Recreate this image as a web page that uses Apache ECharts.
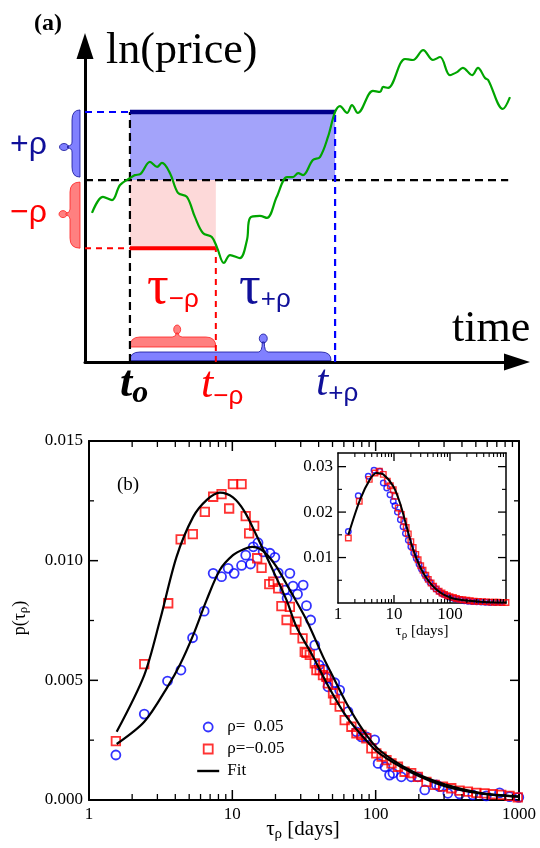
<!DOCTYPE html>
<html><head><meta charset="utf-8">
<script src="https://cdn.jsdelivr.net/npm/echarts@6.0.0/dist/echarts.min.js"></script>
<style>html,body{margin:0;padding:0;background:#fff}#c{width:540px;height:848px}</style>
</head><body><div id="c"></div>
<script>
// ---------- panel (a) schematic data ----------
const walkTime = [1.57,4.04,6.07,7.87,10.1,11.2,12.4,14.6,16.2,17.3,19.1,20.9,22.9,24.7,26.5,28.5,29.7,31.2,32.6,34.8,36.4,37.1,39.3,40.9,43.1,45.4,46.7,47.9,49.0,51.2,52.8,54.6,56.2,57.3,58.9,60.0,61.3,64.7,66.3,67.0,68.1,71.9,73.7,76.0,78.2,79.8,82.0,83.6,84.9,87.0,88.3,89.9,90.6,93.9,95.5];
const walkPrice = [45.3,50.2,49.2,53.8,55.9,56.8,57.1,60.8,59.3,60.5,57.4,51.4,50.2,44.1,39.2,38.0,34.7,30.1,32.5,31.6,37.1,43.8,44.4,43.8,50.2,56.2,56.2,57.4,56.8,61.4,62.3,68.4,76.0,77.8,75.7,78.1,75.7,82.4,82.1,83.6,83.3,92.1,91.8,94.8,91.8,92.7,87.2,88.1,89.4,87.2,89.4,86.3,85.7,76.9,80.5];
const priceLevels = [34.6, 55.3, 76.0];   // -rho level, start level, +rho level
const hitTimes = [10.1, 29.4, 56.2];      // t_o, t_-rho, t_+rho
const levelLineEnd = 95.1;

// ---------- panel (b) main data ----------
const tauUp = [1.54,2.43,3.53,4.38,5.28,6.36,7.35,8.41,9.35,10.3,11.6,12.4,13.4,14.0,15.1,16.4,18.3,19.8,20.9,23.2,24.1,25.2,26.5,28.5,31.2,32.9,35.2,37.6,40.3,42.9,45.3,46.5,51.8,56.1,64.1,73.4,79.5,86.1,98.4,104,116,125,132,151,177,197,220,265,279,319,385,476,591,732,859,997];
const pUp = [0.00188,0.00359,0.00497,0.00543,0.00678,0.00789,0.00947,0.00933,0.00968,0.00947,0.00980,0.01023,0.00986,0.01058,0.01075,0.01037,0.01031,0.01014,0.00949,0.00877,0.00843,0.00947,0.00894,0.00860,0.00898,0.00812,0.00752,0.00647,0.00564,0.00547,0.00510,0.00473,0.00490,0.00459,0.00369,0.00285,0.00264,0.00264,0.00251,0.00153,0.00139,0.00104,0.00112,0.00097,0.00097,0.00097,0.00042,0.00063,0.00056,0.00028,0.00025,0.00021,0.00017,0.00030,0.00014,0.00011];
const tauDown = [1.54,2.43,3.57,4.36,5.30,6.43,7.35,8.41,9.50,10.1,11.6,12.4,13.1,14.2,14.9,16.0,18.1,19.3,20.9,22.0,23.9,25.2,27.3,28.0,30.9,32.0,32.9,34.7,37.6,38.6,40.7,42.9,45.3,46.5,50.4,51.8,56.1,60.8,67.7,73.4,79.5,86.1,93.3,101,110,119,129,143,159,177,197,226,258,295,337,385,440,504,575,657,752,859,981];
const pDown = [0.00246,0.00568,0.00822,0.01089,0.01111,0.01204,0.01267,0.01278,0.01218,0.01320,0.01320,0.01186,0.01114,0.01145,0.01010,0.00970,0.00902,0.00912,0.00884,0.00810,0.00752,0.00807,0.00712,0.00745,0.00675,0.00619,0.00615,0.00606,0.00571,0.00543,0.00543,0.00522,0.00515,0.00487,0.00446,0.00418,0.00390,0.00334,0.00306,0.00279,0.00272,0.00258,0.00216,0.00195,0.00181,0.00167,0.00153,0.00139,0.00118,0.00112,0.00097,0.00076,0.00063,0.00056,0.00049,0.00039,0.00035,0.00030,0.00028,0.00024,0.00021,0.00017,0.00011];
const fitUpTau = [1.56,2.43,3.53,4.3,5.33,6.61,8.18,10.1,12.0,13.8,15.5,17.5,20.3,25.2,32.9,42.9,50.4,62.6,81.6,106,182,311,532,1000];
const fitUpP = [0.00234,0.00327,0.00473,0.00564,0.00689,0.00835,0.00961,0.01023,0.01048,0.01058,0.01050,0.01025,0.00975,0.00877,0.00752,0.00599,0.00515,0.00404,0.00292,0.00209,0.00118,0.00063,0.00030,0.00014];
const fitDownTau = [1.56,2.43,3.13,4.08,5.33,6.61,8.2,10.1,12.2,14.7,18.2,23.9,28,36.5,47.8,62.6,81.6,106,182,311,532,1000];
const fitDownP = [0.00285,0.00522,0.00752,0.01016,0.01183,0.01253,0.01284,0.01264,0.01204,0.01107,0.00989,0.00835,0.00724,0.00600,0.00465,0.00348,0.00264,0.00195,0.00112,0.00056,0.00028,0.00014];

// ---------- panel (b) inset data ----------
const insetTauUp = [1.53,2.30,3.47,4.39,5.6,6.44,7.41,8.48,9.7,10.4,11.5,13,14.5,16,18,20,22.5,25,28,31,35,39,44,50,56,63,71,80,90,102,117,135,155,180,210,250,300,360,430,520,640,800];
const insetPUp = [0.01574,0.0236,0.0279,0.0292,0.0290,0.0264,0.0253,0.0238,0.0224,0.0214,0.0200,0.0183,0.0168,0.0153,0.0138,0.0124,0.0110,0.0098,0.0085,0.0074,0.0063,0.0054,0.0045,0.0037,0.0031,0.0026,0.0021,0.0018,0.0015,0.0012,0.0010,0.0008,0.0007,0.0005,0.0004,0.0003,0.00025,0.0002,0.00015,0.00012,0.0001,0.0001];
const insetTauDown = [1.53,2.40,3.62,4.58,5.47,6.44,7.6,8.6,9.7,10.4,11.9,13.5,15,16.5,18,20,22,24.5,27,30,33,37,41,46,51,57,64,72,80,90,100,115,130,150,170,200,230,270,320,380,450,530,620,720,850,1000];
const insetPDown = [0.0143,0.0224,0.0272,0.0286,0.0290,0.0283,0.0268,0.0258,0.0249,0.0235,0.0209,0.0195,0.0180,0.0166,0.0152,0.0135,0.0122,0.0107,0.0095,0.0082,0.0072,0.0061,0.0052,0.0044,0.0037,0.0031,0.0026,0.0022,0.0019,0.0016,0.0014,0.0012,0.0010,0.0008,0.0007,0.0006,0.0005,0.0004,0.00035,0.0003,0.00025,0.0002,0.00018,0.00015,0.00012,0.0001];
const insetFitTau = [1.53,2.47,3.72,4.9,6.44,9.7,12.8,16.8,22.1,33.4,57.8,114,344,1000];
const insetFitP = [0.0150,0.0227,0.0272,0.0286,0.0283,0.0257,0.0220,0.0168,0.0117,0.0066,0.0029,0.0010,0.0003,0.0001];

// ---------- tick positions ----------
const logMajorTicks = [10, 100];
const logMinorTicks = [2,3,4,5,6,7,8,9,20,30,40,50,60,70,80,90,200,300,400,500,600,700,800,900];
const mainYMajorTicks = [0.005, 0.010];
const mainYMinorTicks = [0.0025, 0.0075, 0.0125];
const insetYMajorTicks = [0.01, 0.02, 0.03];
const insetYMinorTicks = [0.005, 0.015, 0.025];
const legendNames = ['ρ=  0.05', 'ρ=−0.05', 'Fit'];

// ---------- helpers ----------
const SERIF = '"Liberation Serif", "Times New Roman", serif';
const SANS = '"Liberation Sans", Arial, sans-serif';
const NAVY = '#10109a', BLUE = '#0000ff', RED = '#ff0000', GREEN = '#00a500';
const zip = (a, b) => a.map((v, i) => [v, b[i]]);
const mctx = document.createElement('canvas').getContext('2d');
function measure(t, f) { mctx.font = f; return mctx.measureText(t).width; }

function ellPath(cx, cy, rx, ry) {
  const k = 0.5523;
  return `M${cx-rx},${cy} C${cx-rx},${cy-ry*k} ${cx-rx*k},${cy-ry} ${cx},${cy-ry} C${cx+rx*k},${cy-ry} ${cx+rx},${cy-ry*k} ${cx+rx},${cy} C${cx+rx},${cy+ry*k} ${cx+rx*k},${cy+ry} ${cx},${cy+ry} C${cx-rx*k},${cy+ry} ${cx-rx},${cy+ry*k} ${cx-rx},${cy} Z`;
}
function hBracePath(x0, x1, yb, h, xk, gap, rx, ry) {
  const yt = yb - h, r = Math.min(10, (x1 - x0) / 4);
  return `M${x0},${yb} Q${x0},${yt} ${x0+r},${yt} L${xk-5},${yt} Q${xk-1},${yt} ${xk-1},${yt-gap} L${xk+1},${yt-gap} Q${xk+1},${yt} ${xk+5},${yt} L${x1-r},${yt} Q${x1},${yt} ${x1},${yb} Z ` + ellPath(xk, yt - gap - ry + 1, rx, ry);
}
function vBracePath(xr, w, y0, y1, yk, gap, rx, ry) {
  const xl = xr - w, r = Math.min(10, (y1 - y0) / 4);
  return `M${xr},${y0} Q${xl},${y0} ${xl},${y0+r} L${xl},${yk-5} Q${xl},${yk-1} ${xl-gap},${yk-1} L${xl-gap},${yk+1} Q${xl},${yk+1} ${xl},${yk+5} L${xl},${y1-r} Q${xl},${y1} ${xr},${y1} Z ` + ellPath(xl - gap - rx + 1, yk, rx, ry);
}
function composite(x, y, segs, o) {
  o = o || {};
  const widths = segs.map(s => measure(s.text, s.font));
  const total = widths.reduce((a, b) => a + b, 0);
  let adv = o.align === 'center' ? -total / 2 : 0;
  const rot = o.rotation || 0;
  const ux = Math.cos(rot), uy = -Math.sin(rot), vx = Math.sin(rot), vy = Math.cos(rot);
  return segs.map((s, i) => {
    const d = s.dy || 0;
    const el = {type: 'text', x: x + ux * adv + vx * d, y: y + uy * adv + vy * d, rotation: rot, silent: true, z: 100,
      style: {legacy: false, text: s.text, font: s.font, fill: s.fill || '#000', align: 'left', verticalAlign: 'middle',
              textAlign: 'left', textVerticalAlign: 'middle'}};
    adv += widths[i];
    return el;
  });
}

// ---------- panel (a) series ----------
const segLine = (data, color, width, type, z) => ({type: 'line', xAxisIndex: 0, yAxisIndex: 0, data, symbol: 'none', silent: true, z,
  lineStyle: {color, width, type, cap: 'butt'}, animation: false});
const rectSeries = (lo, hi, fill) => ({type: 'custom', xAxisIndex: 0, yAxisIndex: 0, silent: true, z: 1, data: [[lo[0], hi[0], lo[1], hi[1]]],
  renderItem: (p, api) => {
    const a = api.coord([api.value(0), api.value(3)]), b = api.coord([api.value(1), api.value(2)]);
    return {type: 'rect', shape: {x: a[0], y: a[1], width: b[0] - a[0], height: b[1] - a[1]}, style: {fill}};
  }});

const seriesA = [
  rectSeries([hitTimes[0], priceLevels[1]], [hitTimes[2], priceLevels[2]], '#a3a3fa'),
  rectSeries([hitTimes[0], priceLevels[0]], [hitTimes[1], priceLevels[1]], '#fdd9d9'),
  segLine([[0, priceLevels[1]], [levelLineEnd, priceLevels[1]]], '#000', 2.2, [8, 5], 4),
  segLine([[hitTimes[0], 0], [hitTimes[0], priceLevels[2]]], '#000', 2.2, [8, 5], 4),
  segLine([[0, priceLevels[2]], [hitTimes[0], priceLevels[2]]], BLUE, 2, [7, 5], 4),
  segLine([[hitTimes[2], 0], [hitTimes[2], priceLevels[2]]], BLUE, 2.2, [7, 5], 4),
  segLine([[0, priceLevels[0]], [hitTimes[0], priceLevels[0]]], RED, 2, [6, 5], 4),
  segLine([[hitTimes[1], 0], [hitTimes[1], priceLevels[0]]], RED, 2, [6, 5], 4),
  segLine([[hitTimes[0], priceLevels[2]], [hitTimes[2], priceLevels[2]]], '#00008b', 4.5, 'solid', 5),
  segLine([[hitTimes[0], priceLevels[0]], [hitTimes[1], priceLevels[0]]], RED, 4, 'solid', 5),
  {type: 'line', xAxisIndex: 0, yAxisIndex: 0, data: zip(walkTime, walkPrice), smooth: 0.35, symbol: 'none', silent: true, z: 6,
   lineStyle: {color: GREEN, width: 2.2}},
  {type: 'custom', xAxisIndex: 0, yAxisIndex: 0, silent: true, z: 3, data: [[priceLevels[1], priceLevels[2]]],
   renderItem: (p, api) => { const t = api.coord([0, api.value(1)]), b = api.coord([0, api.value(0)]);
     return {type: 'path', shape: {pathData: vBracePath(t[0] - 5, 8, t[1] - 2, b[1] - 3, (t[1] + b[1]) / 2 + 1, 4.5, 4.5, 3.5)},
             style: {fill: '#8080ff', stroke: NAVY, lineWidth: 0.8}}; }},
  {type: 'custom', xAxisIndex: 0, yAxisIndex: 0, silent: true, z: 3, data: [[priceLevels[0], priceLevels[1]]],
   renderItem: (p, api) => { const t = api.coord([0, api.value(1)]), b = api.coord([0, api.value(0)]);
     return {type: 'path', shape: {pathData: vBracePath(t[0] - 5, 10, t[1] + 2, b[1], (t[1] + b[1]) / 2, 4, 4, 3.5)},
             style: {fill: '#ff8080', stroke: '#ff2020', lineWidth: 0.8}}; }},
  {type: 'custom', xAxisIndex: 0, yAxisIndex: 0, silent: true, z: 3, data: [[hitTimes[0], hitTimes[1]]],
   renderItem: (p, api) => { const a = api.coord([api.value(0), 0]), b = api.coord([api.value(1), 0]);
     return {type: 'path', shape: {pathData: hBracePath(a[0], b[0], a[1] - 15, 10, a[0] + (b[0] - a[0]) * 0.55, 4, 3.5, 4.5)},
             style: {fill: '#ff8080', stroke: '#ff2020', lineWidth: 0.8}}; }},
  {type: 'custom', xAxisIndex: 0, yAxisIndex: 0, silent: true, z: 3, data: [[hitTimes[0], hitTimes[2]]],
   renderItem: (p, api) => { const a = api.coord([api.value(0), 0]), b = api.coord([api.value(1), 0]);
     return {type: 'path', shape: {pathData: hBracePath(a[0], b[0] - 4, a[1] - 1.5, 8.5, a[0] + (b[0] - a[0]) * 0.65, 10, 4, 4.5)},
             style: {fill: '#8080ff', stroke: NAVY, lineWidth: 0.8}}; }}
];

// ---------- panel (b) ----------
function xTickSeries(xi, yi, values, yRange, len, lw) {
  return {type: 'custom', xAxisIndex: xi, yAxisIndex: yi, silent: true, clip: false, z: 8, data: values.map(v => [v, yRange[0]]),
    renderItem: (p, api) => { const v = api.value(0); const b = api.coord([v, yRange[0]]), t = api.coord([v, yRange[1]]);
      return {type: 'group', children: [
        {type: 'line', shape: {x1: b[0], y1: b[1], x2: b[0], y2: b[1] - len}, style: {stroke: '#000', lineWidth: lw}},
        {type: 'line', shape: {x1: t[0], y1: t[1], x2: t[0], y2: t[1] + len}, style: {stroke: '#000', lineWidth: lw}}]}; }};
}
function yTickSeries(xi, yi, values, xRange, len, lw) {
  return {type: 'custom', xAxisIndex: xi, yAxisIndex: yi, silent: true, clip: false, z: 8, data: values.map(v => [xRange[0], v]),
    renderItem: (p, api) => { const v = api.value(1); const l = api.coord([xRange[0], v]), r = api.coord([xRange[1], v]);
      return {type: 'group', children: [
        {type: 'line', shape: {x1: l[0], y1: l[1], x2: l[0] + len, y2: l[1]}, style: {stroke: '#000', lineWidth: lw}},
        {type: 'line', shape: {x1: r[0], y1: r[1], x2: r[0] - len, y2: r[1]}, style: {stroke: '#000', lineWidth: lw}}]}; }};
}
const scatter = (name, xi, yi, data, symbol, size, color, bw) => ({name, type: 'scatter', xAxisIndex: xi, yAxisIndex: yi, data, symbol, symbolSize: size,
  itemStyle: {color: 'rgba(255,255,255,0)', borderColor: color, borderWidth: bw}, z: 3, silent: true});
const fitLine = (xi, yi, data, w) => ({name: 'Fit', type: 'line', xAxisIndex: xi, yAxisIndex: yi, data, smooth: 0.3, symbol: 'none', silent: true, z: 4,
  itemStyle: {color: '#000'}, lineStyle: {color: '#000', width: w}});

const seriesB = [
  scatter(legendNames[0], 1, 1, zip(tauUp, pUp), 'circle', 9, BLUE, 1.8),
  scatter(legendNames[1], 1, 1, zip(tauDown, pDown), 'rect', 8.5, RED, 1.8),
  fitLine(1, 1, zip(fitDownTau, fitDownP), 2.2),
  fitLine(1, 1, zip(fitUpTau, fitUpP), 2.2),
  xTickSeries(1, 1, logMajorTicks, [0, 0.015], 10, 1.5),
  xTickSeries(1, 1, logMinorTicks, [0, 0.015], 6, 1.3),
  yTickSeries(1, 1, mainYMajorTicks, [1, 1000], 9, 1.5),
  yTickSeries(1, 1, mainYMinorTicks, [1, 1000], 5, 1.3),
  scatter(legendNames[0], 3, 3, zip(insetTauUp, insetPUp), 'circle', 5.5, BLUE, 1.4),
  scatter(legendNames[1], 3, 3, zip(insetTauDown, insetPDown), 'rect', 5.5, RED, 1.4),
  fitLine(3, 3, zip(insetFitTau, insetFitP), 2),
  xTickSeries(3, 3, logMajorTicks, [0, 0.033], 8, 1.3),
  xTickSeries(3, 3, logMinorTicks, [0, 0.033], 4, 1.1),
  yTickSeries(3, 3, insetYMajorTicks, [1, 1000], 8, 1.3),
  yTickSeries(3, 3, insetYMinorTicks, [1, 1000], 4, 1.1)
];

const lblStyle = (size, margin, fmt) => ({show: true, color: '#000', fontFamily: SERIF, fontSize: size, margin, formatter: fmt});
const frameLine = w => ({show: true, onZero: false, lineStyle: {color: '#000', width: w}});

function logX(grid, pos, showLabel, w, labelSize, margin, fmt) {
  return {type: 'log', gridIndex: grid, logBase: 10, min: 1, max: 1000, position: pos,
    axisLine: frameLine(w), axisTick: {show: false}, minorTick: {show: false},
    axisLabel: showLabel ? lblStyle(labelSize, margin, fmt) : {show: false}, splitLine: {show: false}, minorSplitLine: {show: false}};
}
function valY(grid, pos, showLabel, max, interval, w, labelSize, margin, fmt) {
  return {type: 'value', gridIndex: grid, min: 0, max, interval, position: pos,
    axisLine: frameLine(w), axisTick: {show: false}, minorTick: {show: false},
    axisLabel: showLabel ? lblStyle(labelSize, margin, fmt) : {show: false}, splitLine: {show: false}, minorSplitLine: {show: false}};
}
const arrowAxis = (max) => ({type: 'value', gridIndex: 0, min: 0, max,
  axisLine: {show: true, onZero: false, symbol: ['none', 'triangle'], symbolSize: [17, 26], lineStyle: {color: '#000', width: 3}},
  axisTick: {show: false}, axisLabel: {show: false}, splitLine: {show: false}});

const labels = [].concat(
  composite(34, 24, [{text: '(a)', font: 'bold 24px ' + SERIF}]),
  composite(106, 51, [{text: 'ln(price)', font: '44px ' + SERIF}]),
  composite(452, 329, [{text: 'time', font: '44px ' + SERIF}]),
  composite(10, 145, [{text: '+ρ', font: '32px ' + SANS, fill: NAVY}]),
  composite(10, 213, [{text: '−ρ', font: '32px ' + SANS, fill: RED}]),
  composite(147, 289, [{text: 'τ', font: '54px ' + SERIF, fill: RED}, {text: '−ρ', font: '26px ' + SANS, fill: RED, dy: 11}]),
  composite(239, 289, [{text: 'τ', font: '54px ' + SERIF, fill: NAVY}, {text: '+ρ', font: '26px ' + SANS, fill: NAVY, dy: 11}]),
  composite(120, 385, [{text: 't', font: 'italic bold 44px ' + SERIF}, {text: 'o', font: 'italic bold 32px ' + SERIF, dy: 9}]),
  composite(201, 385, [{text: 't', font: 'italic 44px ' + SERIF, fill: RED}, {text: '−ρ', font: '26px ' + SANS, fill: RED, dy: 12}]),
  composite(316, 383, [{text: 't', font: 'italic 44px ' + SERIF, fill: NAVY}, {text: '+ρ', font: '26px ' + SANS, fill: NAVY, dy: 11}]),
  composite(117, 485, [{text: '(b)', font: '19px ' + SERIF}]),
  composite(303, 829, [{text: 'τ', font: '21px ' + SERIF}, {text: 'ρ', font: '15px ' + SERIF, dy: 5}, {text: ' [days]', font: '21px ' + SERIF}], {align: 'center'}),
  composite(422, 631, [{text: 'τ', font: '15px ' + SERIF}, {text: 'ρ', font: '11px ' + SERIF, dy: 4}, {text: ' [days]', font: '15px ' + SERIF}], {align: 'center'}),
  composite(20, 618, [{text: 'p(τ', font: '18px ' + SERIF}, {text: 'ρ', font: '13px ' + SERIF, dy: 4}, {text: ')', font: '18px ' + SERIF}], {align: 'center', rotation: Math.PI / 2})
);

const fmtInt = v => String(Math.round(v));
const option = {
  animation: false,
  backgroundColor: '#fff',
  grid: [
    {left: 85, top: 46, width: 432, height: 316, show: false, containLabel: false, outerBoundsMode: 'none'},
    {left: 89, top: 441, width: 430, height: 359, show: false, containLabel: false, outerBoundsMode: 'none'},
    {left: 338, top: 453, width: 168, height: 150, show: true, backgroundColor: '#fff', borderWidth: 0, containLabel: false, outerBoundsMode: 'none'}
  ],
  xAxis: [
    arrowAxis(97.08),
    logX(1, 'bottom', true, 2, 17, 6, fmtInt),
    logX(1, 'top', false, 2),
    logX(2, 'bottom', true, 1.5, 17, 3, v => (v > 999 ? '' : fmtInt(v))),
    logX(2, 'top', false, 1.5)
  ],
  yAxis: [
    arrowAxis(96.05),
    valY(1, 'left', true, 0.015, 0.005, 2, 17, 6, v => v.toFixed(3)),
    valY(1, 'right', false, 0.015, 0.005, 2),
    valY(2, 'left', true, 0.033, 0.01, 1.5, 17, 5, v => (v < 1e-9 || v > 0.0305 ? '' : v.toFixed(2))),
    valY(2, 'right', false, 0.033, 0.01, 1.5)
  ],
  legend: {show: true, orient: 'vertical', left: 196, top: 718.5, itemWidth: 22, itemHeight: 9, itemGap: 5, padding: 0,
    selectedMode: false, symbolKeepAspect: true,
    data: [
      {name: legendNames[0], icon: 'circle', itemStyle: {color: 'rgba(255,255,255,0)', borderColor: BLUE, borderWidth: 1.8}},
      {name: legendNames[1], icon: 'path://M0,0H10V10H0Z', itemStyle: {color: 'rgba(255,255,255,0)', borderColor: RED, borderWidth: 1.8}},
      {name: legendNames[2], itemStyle: {opacity: 0}, lineStyle: {color: '#000', width: 2.4}}
    ],
    textStyle: {fontFamily: SERIF, fontSize: 17, color: '#000', padding: [0, 0, 0, 3]}},
  tooltip: {show: false},
  series: seriesA.concat(seriesB),
  graphic: labels
};
const chart = echarts.init(document.getElementById('c'), null, {renderer: 'canvas'});
chart.setOption(option);
</script></body></html>
